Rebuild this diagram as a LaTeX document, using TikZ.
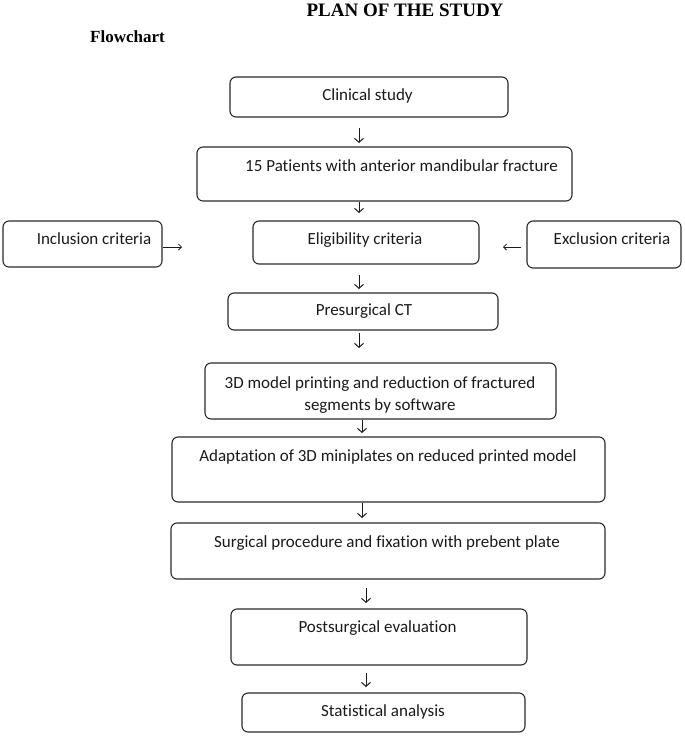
\documentclass[tikz,border=0pt]{standalone}
\usepackage{fontspec}
\setmainfont[Ligatures={NoCommon}]{Carlito}
\newfontfamily\titlefont{Liberation Serif}
\usetikzlibrary{arrows.meta}
\definecolor{linec}{HTML}{2A2A2A}
\definecolor{textc}{HTML}{1A1A1A}
\tikzset{
  box/.style={draw=linec, line width=1.1pt, rounded corners=6pt, inner sep=0pt, outer sep=0pt},
  txt/.style={anchor=base, inner sep=0pt, text=textc, font=\fontsize{17}{20}\selectfont},
  arr/.style={draw=textc, line width=1pt, -{Straight Barb[length=4pt,width=9pt,line width=1pt]}},
  harr/.style={draw=textc, line width=0.8pt, -{Straight Barb[length=3pt,width=6pt,line width=0.8pt]}}
}
\begin{document}
\begin{tikzpicture}[x=1pt,y=-1pt]
\useasboundingbox (0,0) rectangle (685,745);
% headings
\node[anchor=base, inner sep=0pt, font=\titlefont\bfseries\fontsize{19}{22}\selectfont] (title) at (405,16) {PLAN OF THE STUDY};
\node[anchor=base west, inner sep=0pt, font=\titlefont\bfseries\fontsize{17}{20}\selectfont] (flow) at (90,42.5) {Flowchart};
% boxes
\node[box, minimum width=278pt, minimum height=40pt] (clin) at (369,97) {};
\node[box, minimum width=375pt, minimum height=54pt] (pat) at (384.5,174) {};
\node[box, minimum width=159pt, minimum height=46pt] (incl) at (82.5,244) {};
\node[box, minimum width=226pt, minimum height=43pt] (elig) at (366,242.5) {};
\node[box, minimum width=154pt, minimum height=47pt] (excl) at (604,244.5) {};
\node[box, minimum width=270pt, minimum height=37pt] (ct) at (363,311.5) {};
\node[box, minimum width=351pt, minimum height=56pt] (model) at (380.5,391) {};
\node[box, minimum width=433pt, minimum height=65pt] (adapt) at (388.5,469.5) {};
\node[box, minimum width=434pt, minimum height=56pt] (surg) at (388,551) {};
\node[box, minimum width=296pt, minimum height=56pt] (post) at (379,637) {};
\node[box, minimum width=283pt, minimum height=39pt] (stat) at (383.5,712.5) {};
% texts
\node[txt] (tclin) at (367.5,100) {Clinical study};
\node[txt] (tpat) at (401.5,171) {15 Patients with anterior mandibular fracture};
\node[txt] (tincl) at (94,244) {Inclusion criteria};
\node[txt] (telig) at (365,244) {Eligibility criteria};
\node[txt] (texcl) at (612,244) {Exclusion criteria};
\node[txt] (tct) at (364,315) {Presurgical CT};
\node[txt] (tmod1) at (380,388) {3D model printing and reduction of fractured};
\node[txt] (tmod2) at (380,410) {segments by software};
\node[txt] (tadapt) at (388,461) {Adaptation of 3D miniplates on reduced printed model};
\node[txt] (tsurg) at (387,547) {Surgical procedure and fixation with prebent plate};
\node[txt] (tpost) at (377.5,632) {Postsurgical evaluation};
\node[txt] (tstat) at (383,716) {Statistical analysis};
% arrow columns
\coordinate (ca) at (359,0);
\coordinate (cb) at (362,0);
\coordinate (cc) at (366,0);
\coordinate (hy) at (0,247);
% arrows
\draw[arr] ([yshift=-11pt]clin.south -| ca) -- ([yshift=4pt]pat.north -| ca);
\draw[arr] ([yshift=-1pt]pat.south -| ca) -- ([yshift=8pt]elig.north -| ca);
\draw[arr] ([yshift=-11pt]elig.south -| ca) -- ([yshift=4pt]ct.north -| ca);
\draw[arr] ([yshift=-3pt]ct.south -| ca) -- ([yshift=15pt]model.north -| ca);
\draw[arr] ([yshift=-1pt]model.south -| cb) -- ([yshift=4pt]adapt.north -| cb);
\draw[arr] ([yshift=-1pt]adapt.south -| cb) -- ([yshift=5pt]surg.north -| cb);
\draw[arr] ([yshift=-9pt]surg.south -| cc) -- ([yshift=6pt]post.north -| cc);
\draw[arr] ([yshift=-8pt]post.south -| cc) -- ([yshift=6pt]stat.north -| cc);
\draw[harr] ([xshift=1pt]incl.east |- hy) -- ([xshift=-71pt]elig.west |- hy);
\draw[harr] ([xshift=-6pt]excl.west |- hy) -- ([xshift=24pt]elig.east |- hy);
\end{tikzpicture}
\end{document}
